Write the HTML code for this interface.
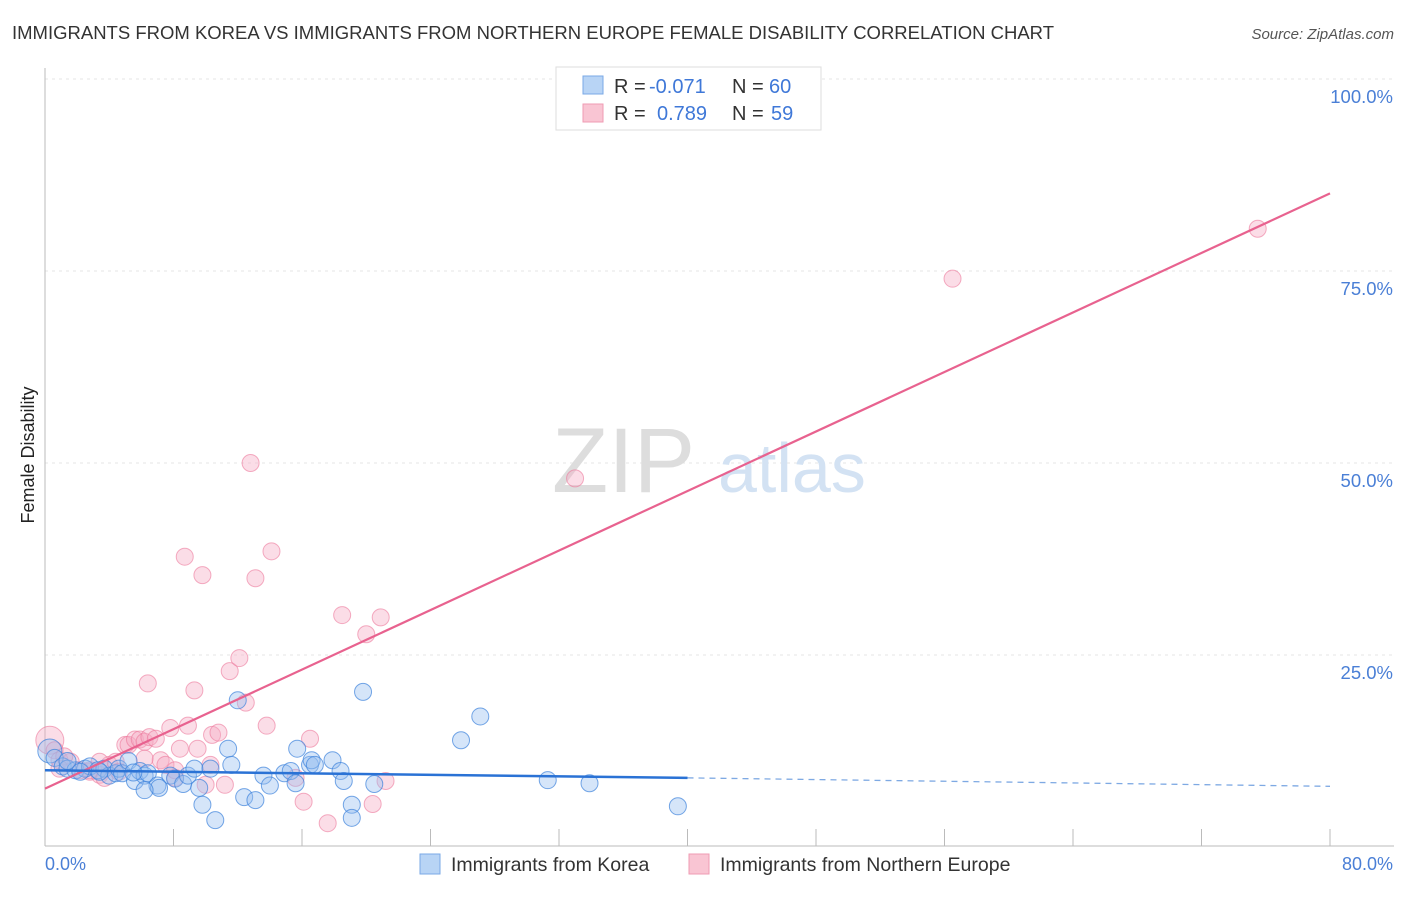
<!DOCTYPE html>
<html><head><meta charset="utf-8"><style>
body{margin:0;background:#fff;font-family:"Liberation Sans",sans-serif;}
svg text{font-family:"Liberation Sans",sans-serif;}
</style></head><body>
<svg width="1406" height="892" xmlns="http://www.w3.org/2000/svg" id="chart">
<text x="12" y="39" font-size="18.6" fill="#333" textLength="1042" lengthAdjust="spacingAndGlyphs">IMMIGRANTS FROM KOREA VS IMMIGRANTS FROM NORTHERN EUROPE FEMALE DISABILITY CORRELATION CHART</text>
<text x="1394" y="39" font-size="15" fill="#555" font-style="italic" text-anchor="end">Source: ZipAtlas.com</text>
<text x="34" y="455" font-size="18" fill="#222" text-anchor="middle" transform="rotate(-90 34 455)">Female Disability</text>
<g id="grid"></g>
<g><text x="552" y="492" font-size="92" fill="#ddd" font-family="Liberation Serif,serif">ZIP</text><text x="718" y="492" font-size="70" fill="#d3e2f3">atlas</text></g>
<line x1="45" y1="68" x2="45" y2="846" stroke="#bbb"/>
<line x1="45" y1="846" x2="1394" y2="846" stroke="#bbb"/>
<g id="ticks"></g>
<g id="ylabels"></g>
<text x="45" y="870" font-size="18" fill="#4a7fd6">0.0%</text>
<text x="1393" y="870" font-size="18" fill="#4a7fd6" text-anchor="end">80.0%</text>
<g id="pink"></g>
<g id="blue"></g>
<g id="lines"></g>
<g>
<rect x="556" y="67" width="265" height="63" fill="#fff" stroke="#ddd"/>
<rect x="583" y="76" width="20" height="18" fill="#b8d4f5" stroke="#7aa8e6"/>
<rect x="583" y="104" width="20" height="18" fill="#f9c5d3" stroke="#ef9bb3"/>
<text x="614" y="93" font-size="20" fill="#333">R =</text>
<text x="649" y="93" font-size="20" fill="#3f78d8">-0.071</text>
<text x="732" y="93" font-size="20" fill="#333">N =</text>
<text x="769" y="93" font-size="20" fill="#3f78d8">60</text>
<text x="614" y="120" font-size="20" fill="#333">R =</text>
<text x="657" y="120" font-size="20" fill="#3f78d8">0.789</text>
<text x="732" y="120" font-size="20" fill="#333">N =</text>
<text x="771" y="120" font-size="20" fill="#3f78d8">59</text>
</g>
<g>
<rect x="420" y="854" width="20" height="20" fill="#b8d4f5" stroke="#7aa8e6"/>
<text x="451" y="871" font-size="19.5" fill="#333">Immigrants from Korea</text>
<rect x="689" y="854" width="20" height="20" fill="#f9c5d3" stroke="#ef9bb3"/>
<text x="720" y="871" font-size="19.5" fill="#333">Immigrants from Northern Europe</text>
</g>
</svg>
<script>
const blueX=[0.3,0.6,1.1,1.4,1.9,2.5,2.8,3.3,3.7,4.0,4.4,4.6,4.8,5.2,5.6,5.9,6.2,6.4,7.0,7.1,7.8,8.1,8.6,8.9,9.3,9.6,9.8,10.3,10.6,11.4,11.6,12.0,12.4,13.1,13.6,14.0,14.9,15.3,15.6,15.7,16.5,16.6,16.8,17.9,18.4,18.6,19.1,19.1,19.8,20.5,25.9,27.1,31.3,33.9,39.4,1.4,3.4,6.2,2.2,5.5];
const blueY=[12.5,11.6,10.5,10.2,10.0,10.2,10.5,10.0,10.2,9.3,9.6,10.2,9.6,11.2,8.6,9.9,9.3,9.6,8.0,7.7,9.3,8.9,8.2,9.3,10.2,7.7,5.5,10.2,3.5,12.8,10.7,19.1,6.5,6.1,9.3,8.0,9.6,9.9,8.3,12.8,10.7,11.3,10.7,11.3,9.9,8.6,5.5,3.8,20.2,8.2,13.9,17.0,8.7,8.3,5.3,11.2,9.8,7.4,9.8,9.7];
const pinkX=[0.3,0.6,0.9,1.6,2.2,2.8,3.4,3.7,4.0,4.4,4.6,5.0,5.2,5.6,5.9,6.2,6.5,6.4,6.9,7.2,7.5,7.8,8.1,8.4,8.7,8.9,9.3,9.5,9.8,10.0,10.3,10.4,10.8,11.2,11.5,12.1,12.5,12.8,13.1,13.8,14.1,15.6,16.1,16.5,17.6,18.5,20.0,20.4,20.9,21.2,33.0,56.5,75.5,3.4,1.2,6.2,8.1,0.9,2.8];
const pinkY=[13.9,12.6,11.3,11.1,10.0,9.8,9.4,9.0,10.7,11.1,9.8,13.3,13.3,14.0,14.0,13.7,14.3,21.3,14.1,11.3,10.7,15.5,9.0,12.8,37.8,15.8,20.4,12.8,35.4,8.1,10.7,14.6,14.9,8.1,22.9,24.6,18.8,50.0,35.0,15.8,38.5,9.0,5.9,14.1,3.1,30.2,27.7,5.6,29.9,8.6,48.0,74.0,80.5,11.1,11.8,11.5,10.0,10.2,10.0];
const xMin=0,xMax=80,px0=45,px1=1330,py0=847,pyPer=7.68;
const X=v=>px0+(v-xMin)/(xMax-xMin)*(px1-px0);
const Y=v=>py0-v*pyPer;
const NS='http://www.w3.org/2000/svg';
function mk(t,a,p){const e=document.createElementNS(NS,t);for(const k in a)e.setAttribute(k,a[k]);p.appendChild(e);return e;}
const yTicks=[25,50,75,100];
const yTickLabels=['25.0%','50.0%','75.0%','100.0%'];
const grid=document.getElementById('grid'),yl=document.getElementById('ylabels');
yTicks.forEach((t,i)=>{
 const l=mk('line',{x1:45,x2:1394,y1:Y(t),y2:Y(t),stroke:'#e6e6e6','stroke-dasharray':'3 4'},grid);
 
 
 const tx=mk('text',{x:1393,y:Y(t)+24,'font-size':18.5,fill:'#4a7fd6','text-anchor':'end'},yl);
 tx.textContent=yTickLabels[i];
 
 
});
const xTicks=[8,16,24,32,40,48,56,64,72,80];
const tk=document.getElementById('ticks');
xTicks.forEach(t=>{const l=mk('line',{x1:X(t),x2:X(t),y1:829,y2:846,stroke:'#bbb'},tk);
 
 });
const pg=document.getElementById('pink'),bg=document.getElementById('blue');
pinkX.forEach((x,i)=>{const r=i==0?14:8.5;const c=mk('circle',{cx:X(x),cy:Y(pinkY[i]),r:r,fill:'rgba(246,170,195,0.4)',stroke:'rgba(236,120,155,0.6)','stroke-width':1},pg);
 
 });
blueX.forEach((x,i)=>{const r=i==0?12:8.5;const c=mk('circle',{cx:X(x),cy:Y(blueY[i]),r:r,fill:'rgba(150,190,240,0.4)',stroke:'rgba(60,130,220,0.7)','stroke-width':1},bg);
 
 });
const pinkTrend=[7.6,85.1],blueTrend=[10.0,9.0,7.9];
const lg=document.getElementById('lines');
let a=mk('line',{x1:X(0),y1:Y(pinkTrend[0]),x2:X(80),y2:Y(pinkTrend[1]),stroke:'#e8628f','stroke-width':2.2},lg);


let b=mk('line',{x1:X(0),y1:Y(blueTrend[0]),x2:X(40),y2:Y(blueTrend[1]),stroke:'#2a72d5','stroke-width':2.5},lg);


let c=mk('line',{x1:X(40),y1:Y(blueTrend[1]),x2:X(80),y2:Y(blueTrend[2]),stroke:'#7ea9e3','stroke-width':1.3,'stroke-dasharray':'6 5'},lg);


</script>
</body></html>
